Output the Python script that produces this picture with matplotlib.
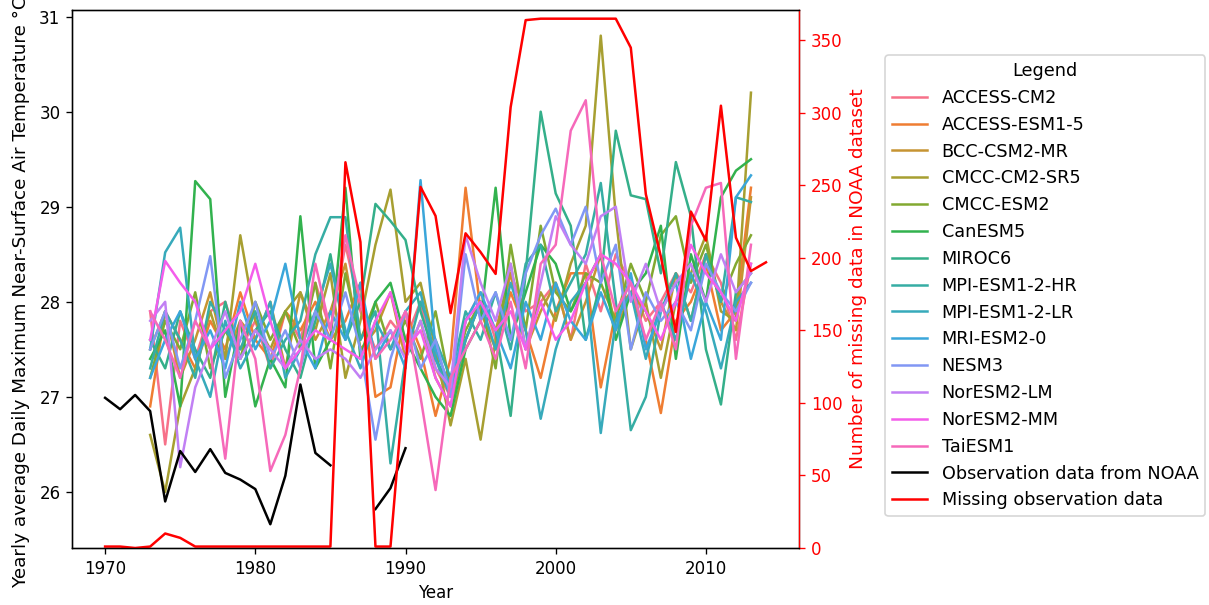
"""Yearly max near-surface air temperature: CMIP6 models vs NOAA observations."""

import matplotlib
matplotlib.use("Agg")
import matplotlib.pyplot as plt
import numpy as np
import seaborn as sns

model_years = np.arange(1973, 2014)
models = [
    "ACCESS-CM2", "ACCESS-ESM1-5", "BCC-CSM2-MR", "CMCC-CM2-SR5", "CMCC-ESM2",
    "CanESM5", "MIROC6", "MPI-ESM1-2-HR", "MPI-ESM1-2-LR", "MRI-ESM2-0",
    "NESM3", "NorESM2-LM", "NorESM2-MM", "TaiESM1",
]

access_cm2 = [27.9, 26.5, 27.8, 27.4, 27.9, 28.0, 27.5, 27.8, 27.3, 27.9, 27.6, 28.2, 27.7, 28.6,
              27.9, 27.5, 27.8, 27.6, 28.0, 27.3, 27.0, 27.8, 28.1, 27.6, 28.3, 27.9, 28.0, 28.2,
              27.6, 28.4, 27.9, 28.5, 28.2, 27.8, 28.0, 28.3, 28.1, 28.5, 28.2, 27.6, 28.4]
access_esm1_5 = [26.9, 27.9, 27.6, 27.3, 27.8, 27.5, 28.1, 27.6, 27.4, 27.9, 27.7, 28.0, 27.6, 27.8,
                 28.2, 27.0, 27.1, 27.9, 27.5, 26.8, 27.4, 29.2, 27.9, 27.5, 28.1, 27.7, 27.2, 27.9,
                 28.3, 28.3, 27.1, 27.9, 28.1, 27.6, 26.83, 27.8, 28.0, 28.4, 27.7, 27.9, 29.2]
bcc_csm2_mr = [27.5, 27.9, 27.2, 27.6, 28.1, 27.4, 27.8, 27.6, 28.0, 27.3, 28.1, 27.6, 27.9, 28.4,
               27.5, 27.7, 28.1, 27.4, 27.8, 27.2, 26.9, 27.6, 28.0, 27.7, 28.3, 27.5, 27.9, 28.2,
               27.6, 28.0, 28.5, 27.7, 28.1, 27.9, 27.5, 28.3, 27.8, 28.5, 28.0, 27.7, 29.1]
cmcc_cm2_sr5 = [26.6, 26.0, 26.9, 27.3, 27.9, 27.4, 28.7, 27.8, 27.5, 27.9, 28.1, 27.7, 28.3, 27.2,
                27.8, 28.6, 29.18, 28.0, 28.2, 27.5, 26.7, 27.4, 26.55, 27.6, 28.4, 27.5, 28.1, 27.8,
                28.4, 28.8, 30.8, 28.9, 27.5, 28.0, 27.2, 28.0, 28.3, 28.7, 27.9, 27.8, 30.2]
cmcc_esm2 = [27.2, 27.8, 27.5, 28.1, 27.3, 27.7, 27.4, 28.0, 27.6, 27.9, 27.5, 28.2, 27.3, 28.3,
             27.6, 28.0, 27.5, 27.8, 27.4, 27.9, 27.1, 27.7, 28.0, 27.3, 28.6, 27.7, 28.8, 28.1,
             27.9, 28.3, 28.2, 27.8, 28.4, 28.0, 28.7, 28.9, 28.2, 28.6, 28.0, 28.4, 28.7]
canesm5 = [27.4, 27.7, 26.9, 29.27, 29.08, 27.0, 27.8, 26.9, 27.4, 27.1, 28.9, 27.3, 27.6, 29.2,
           27.4, 28.0, 28.2, 27.6, 27.3, 27.0, 26.8, 27.5, 27.8, 29.2, 27.6, 28.1, 28.6, 28.4,
           27.9, 28.2, 28.5, 27.6, 28.1, 28.3, 28.8, 27.4, 28.5, 28.0, 29.1, 29.38, 29.5]
miroc6 = [27.6, 27.3, 27.9, 27.5, 27.2, 28.0, 27.4, 27.7, 27.9, 27.5, 27.2, 27.8, 28.5, 27.6,
          28.0, 29.03, 28.85, 28.65, 27.9, 27.4, 27.1, 27.6, 28.0, 27.7, 26.8, 28.3, 30.0, 29.14,
          28.8, 27.6, 28.2, 29.8, 29.12, 29.08, 28.3, 29.47, 28.9, 27.5, 26.92, 28.1, 28.3]
mpi_esm1_2_hr = [27.3, 27.9, 27.6, 27.2, 28.0, 27.7, 27.5, 27.9, 27.3, 27.6, 27.8, 28.5, 28.89, 28.89,
                 27.6, 27.9, 26.3, 27.4, 28.0, 27.6, 27.2, 27.9, 27.6, 28.1, 27.5, 28.4, 28.6, 27.9,
                 28.2, 28.5, 29.25, 28.0, 26.65, 27.0, 27.9, 28.3, 27.8, 28.5, 28.0, 29.1, 29.05]
mpi_esm1_2_lr = [27.5, 28.52, 28.78, 27.4, 27.0, 27.8, 27.3, 27.6, 28.0, 27.2, 27.5, 27.9, 28.4, 27.7,
                 27.3, 27.8, 27.5, 27.9, 28.1, 27.4, 27.0, 27.6, 28.0, 27.5, 28.2, 27.7, 26.77, 27.5,
                 28.0, 28.2, 26.62, 27.8, 28.1, 27.4, 28.0, 27.6, 28.3, 27.9, 27.3, 28.0, 28.2]
mri_esm2_0 = [27.2, 27.6, 27.9, 27.4, 27.7, 27.3, 28.0, 27.5, 27.8, 28.4, 27.6, 27.3, 27.9, 27.6,
              28.2, 27.4, 27.7, 27.3, 29.28, 27.5, 27.1, 27.8, 28.1, 27.7, 27.3, 28.0, 27.6, 28.2,
              27.8, 27.6, 28.1, 27.7, 28.3, 27.5, 27.9, 28.2, 27.4, 28.0, 27.6, 29.1, 29.33]
nesm3 = [27.5, 27.9, 27.3, 27.8, 28.48, 27.2, 27.6, 28.0, 27.4, 27.7, 27.3, 27.9, 27.6, 28.1,
         27.5, 26.55, 27.4, 27.9, 27.3, 27.6, 27.0, 28.5, 27.8, 28.1, 27.6, 28.3, 28.7, 28.98,
         28.6, 29.0, 28.2, 28.6, 27.5, 28.1, 27.8, 28.0, 27.7, 28.4, 28.1, 27.9, 28.2]
noresm2_lm = [27.8, 28.0, 26.26, 27.1, 27.5, 27.9, 27.4, 27.7, 27.5, 27.3, 27.6, 27.4, 27.5, 27.4,
              27.2, 27.5, 27.7, 27.4, 27.8, 27.3, 27.1, 28.7, 28.2, 27.8, 28.4, 27.5, 28.2, 28.9,
              28.6, 28.4, 28.9, 29.0, 28.0, 28.4, 27.9, 28.2, 28.4, 28.0, 28.5, 28.1, 28.3]
noresm2_mm = [27.6, 28.43, 28.2, 28.0, 27.5, 27.7, 27.9, 28.4, 27.8, 27.3, 27.5, 27.7, 27.6, 27.5,
              27.4, 27.8, 28.1, 27.5, 27.7, 27.2, 26.9, 27.8, 28.0, 27.7, 27.9, 27.5, 28.0, 27.6,
              27.8, 28.2, 28.5, 28.4, 28.2, 27.9, 27.6, 28.0, 28.6, 28.3, 28.1, 27.8, 28.4]
taiesm1 = [27.9, 27.6, 27.2, 27.8, 27.5, 26.35, 27.8, 27.4, 26.22, 26.6, 27.3, 28.4, 27.7, 28.7,
           28.0, 27.4, 27.6, 27.9, 27.0, 26.02, 27.2, 27.5, 27.8, 27.4, 28.0, 27.3, 28.4, 28.6,
           29.8, 30.12, 28.5, 27.9, 28.2, 27.6, 28.0, 27.5, 28.8, 29.2, 29.25, 27.4, 28.6]

model_values = [
    access_cm2, access_esm1_5, bcc_csm2_mr, cmcc_cm2_sr5, cmcc_esm2, canesm5, miroc6,
    mpi_esm1_2_hr, mpi_esm1_2_lr, mri_esm2_0, nesm3, noresm2_lm, noresm2_mm, taiesm1,
]

# NOAA observations (gap in 1986-1987)
obs_years = [1970, 1971, 1972, 1973, 1974, 1975, 1976, 1977, 1978, 1979, 1980, 1981,
             1982, 1983, 1984, 1985, 1986, 1987, 1988, 1989, 1990]
obs_temp = [26.99, 26.87, 27.02, 26.85, 25.90, 26.43, 26.21, 26.45, 26.20, 26.13, 26.03, 25.66,
            26.17, 27.13, 26.41, 26.28, np.nan, np.nan, 25.82, 26.04, 26.46]

# days missing per year in the NOAA record
missing_years = np.arange(1970, 2015)
missing_days = [1, 1, 0, 1, 10, 7, 1, 1, 1, 1, 1, 1, 1, 1, 1, 1, 266, 211, 1, 1,
                125, 249, 229, 162, 217, 204, 189, 304, 364, 365, 365, 365, 365, 365, 365, 345,
                244, 201, 149, 232, 212, 305, 214, 191, 197]


def main():
    fig = plt.figure(figsize=(1209 / 120, 605 / 120), dpi=120)
    ax = fig.add_axes([0.0596, 0.0942, 0.6013, 0.8893])

    colors = sns.color_palette("husl", len(models))
    for name, values, color in zip(models, model_values, colors):
        ax.plot(model_years, values, color=color, linewidth=1.5, label=name)
    ax.plot(obs_years, obs_temp, color="black", linewidth=1.5, label="Observation data from NOAA")

    ax.set_xlim(1967.8, 2016.2)
    ax.set_ylim(25.41, 31.07)
    ax.set_xticks([1970, 1980, 1990, 2000, 2010])
    ax.set_yticks([26, 27, 28, 29, 30, 31])
    ax.set_xlabel("Year")
    ax.set_ylabel("Yearly average Daily Maximum Near-Surface Air Temperature °C", fontsize=11)
    # the original label runs off the top of the figure
    ax.yaxis.set_label_coords(-0.0578, 0.476)

    ax2 = ax.twinx()
    ax2.plot(missing_years, missing_days, color="red", linewidth=1.5, label="Missing observation data")
    ax2.set_ylim(0, 371)
    ax2.set_yticks(range(0, 351, 50))
    ax2.set_ylabel("Number of missing data in NOAA dataset", color="red", fontsize=11.1)
    ax2.tick_params(axis="y", colors="red")
    ax2.spines["right"].set_color("red")

    h1, l1 = ax.get_legend_handles_labels()
    h2, l2 = ax2.get_legend_handles_labels()
    fig.legend(h1 + h2, l1 + l2, title="Legend", loc="upper left",
               bbox_to_anchor=(885 / 1209, 1 - 55 / 605), borderaxespad=0,
               fontsize=10.6, title_fontsize=10.6)

    fig.savefig("out.png", dpi=120)


if __name__ == "__main__":
    main()
